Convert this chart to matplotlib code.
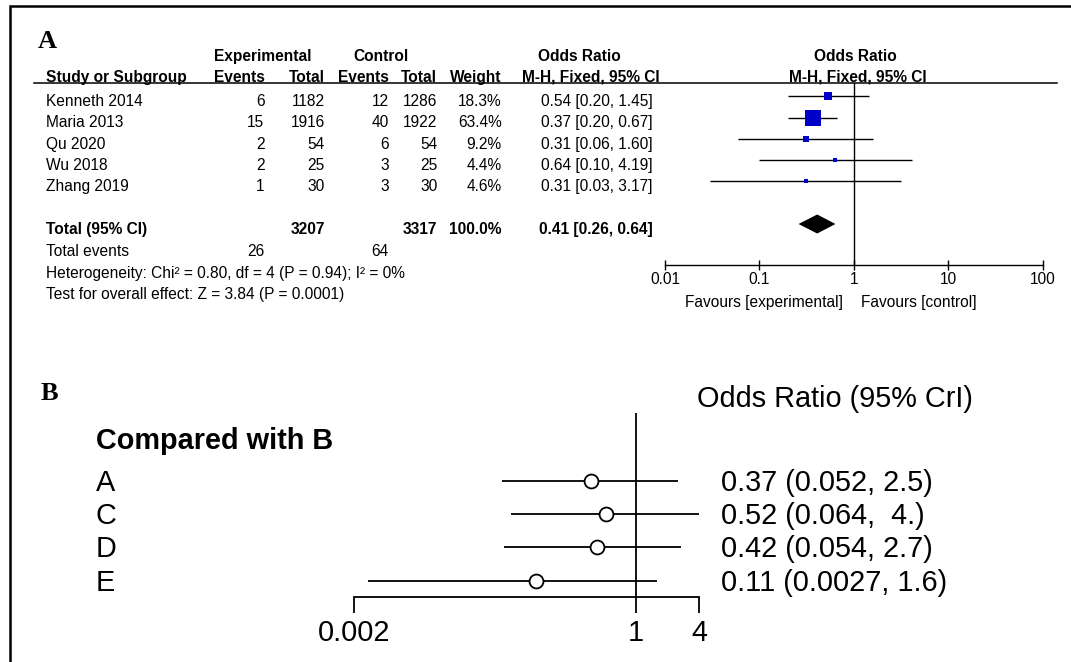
import numpy as np
import matplotlib
matplotlib.use("Agg")
import matplotlib.pyplot as plt

plt.rcParams['font.family'] = ['Liberation Sans', 'DejaVu Sans']

# Panel A: pairwise meta-analysis
studies = ["Kenneth 2014", "Maria 2013", "Qu 2020", "Wu 2018", "Zhang 2019"]
exp_events = [6, 15, 2, 2, 1]
exp_total = [1182, 1916, 54, 25, 30]
ctrl_events = [12, 40, 6, 3, 3]
ctrl_total = [1286, 1922, 54, 25, 30]
weights = [18.3, 63.4, 9.2, 4.4, 4.6]
odds = [0.54, 0.37, 0.31, 0.64, 0.31]
ci_low = [0.20, 0.20, 0.06, 0.10, 0.03]
ci_high = [1.45, 0.67, 1.60, 4.19, 3.17]
pooled = [0.41, 0.26, 0.64]
total_exp, total_ctrl, total_weight = 3207, 3317, 100.0
events_exp, events_ctrl = 26, 64
heterogeneity = "Heterogeneity: Chi² = 0.80, df = 4 (P = 0.94); I² = 0%"
overall = "Test for overall effect: Z = 3.84 (P = 0.0001)"
ticks_a = [0.01, 0.1, 1, 10, 100]
tick_labels_a = ["0.01", "0.1", "1", "10", "100"]

# Panel B: network comparisons
comparisons = ["A", "C", "D", "E"]
or_b = [0.37, 0.52, 0.42, 0.11]
cri_low = [0.052, 0.064, 0.054, 0.0027]
cri_high = [2.5, 4.0, 2.7, 1.6]
or_b_labels = ["0.37 (0.052, 2.5)", "0.52 (0.064,  4.)", "0.42 (0.054, 2.7)", "0.11 (0.0027, 1.6)"]
ticks_b = [0.002, 1, 4]
tick_labels_b = ["0.002", "1", "4"]

W, H = 1071, 662
fig = plt.figure(figsize=(W / 100, H / 100), dpi=100)

# full-figure layer in pixel units for the table text
canvas = fig.add_axes([0, 0, 1, 1])
canvas.set_xlim(0, W)
canvas.set_ylim(H, 0)
canvas.axis('off')


def px_axes(x0, y0, x1, y1):
    return fig.add_axes([x0 / W, 1 - y1 / H, (x1 - x0) / W, (y1 - y0) / H])


# frame (left and top edges only)
canvas.plot([9.7, 9.7, W], [H, 6, 6], color='black', lw=1.8, solid_joinstyle='miter')

serif = ['Liberation Serif', 'DejaVu Serif']
fa = 11.2

# ---------- panel A ----------
canvas.text(38, 48, "A", family=serif, fontweight='bold', fontsize=19)

def t(x, y, s, ha='left', bold=False, size=fa):
    canvas.text(x, y, s, ha=ha, va='baseline', fontsize=size,
                fontweight='bold' if bold else 'normal')

t(262.5, 61, "Experimental", 'center', True)
t(381.5, 61, "Control", 'center', True)
t(579, 61, "Odds Ratio", 'center', True)
t(855, 61, "Odds Ratio", 'center', True)
t(46.5, 82, "Study or Subgroup", 'left', True)
t(264.5, 82, "Events", 'right', True)
t(324.7, 82, "Total", 'right', True)
t(389, 82, "Events", 'right', True)
t(437.3, 82, "Total", 'right', True)
t(501.7, 82, "Weight", 'right', True)
t(591, 82, "M-H, Fixed, 95% CI", 'center', True)
t(858, 82, "M-H, Fixed, 95% CI", 'center', True)
canvas.plot([33.7, 1056.5], [83, 83], color='black', lw=1.1)

for i, name in enumerate(studies):
    y = 106 + 21.3 * i
    t(46.5, y, name)
    t(264.5, y, str(exp_events[i]), 'right')
    t(324.7, y, str(exp_total[i]), 'right')
    t(389, y, str(ctrl_events[i]), 'right')
    t(437.3, y, str(ctrl_total[i]), 'right')
    t(501.7, y, f"{weights[i]:.1f}%", 'right')
    t(652.8, y, f"{odds[i]:.2f} [{ci_low[i]:.2f}, {ci_high[i]:.2f}]", 'right')

y = 106 + 21.3 * 6
t(46.5, y, "Total (95% CI)", 'left', True)
t(324.7, y, str(total_exp), 'right', True)
t(437.3, y, str(total_ctrl), 'right', True)
t(501.7, y, f"{total_weight:.1f}%", 'right', True)
t(652.8, y, f"{pooled[0]:.2f} [{pooled[1]:.2f}, {pooled[2]:.2f}]", 'right', True)
t(46.5, 255.5, "Total events")
t(264.5, 255.5, str(events_exp), 'right')
t(389, 255.5, str(events_ctrl), 'right')
t(46.5, 278, heterogeneity)
t(46.5, 299.5, overall)
t(843.3, 306.5, "Favours [experimental]", 'right')
t(860.8, 306.5, "Favours [control]", 'left')

axa = px_axes(665, 83, 1042.5, 265)
axa.set_xscale('log')
axa.set_xlim(0.01, 100)
axa.set_ylim((265 - 96.2) / 21.3, (83 - 96.2) / 21.3)
rows = np.arange(len(studies))
axa.hlines(rows, ci_low, ci_high, color='black', lw=1.0)
for i in rows:
    axa.plot(odds[i], i, marker='s', color='#0000c8', ms=1.45 * np.sqrt(weights[i]),
             mew=0, zorder=3)
dh = 9.5 / 21.3
axa.fill([pooled[1], pooled[0], pooled[2], pooled[0]], [6, 6 - dh, 6, 6 + dh],
         color='black', lw=0)
axa.axvline(1, color='black', lw=1.0)
for s in ['top', 'left', 'right']:
    axa.spines[s].set_visible(False)
axa.spines['bottom'].set_linewidth(1.0)
axa.set_yticks([])
axa.set_xticks(ticks_a)
axa.set_xticklabels(tick_labels_a, fontsize=fa)
axa.xaxis.set_minor_locator(matplotlib.ticker.NullLocator())
axa.tick_params(axis='x', direction='inout', length=7, width=1.0, pad=1.5)
axa.patch.set_alpha(0)

# ---------- panel B ----------
fb = 20.8
canvas.text(40.6, 400.5, "B", family=serif, fontweight='bold', fontsize=19)
canvas.text(95.7, 449.3, "Compared with B", fontsize=fb, fontweight='bold', va='baseline')
canvas.text(697.4, 407.3, "Odds Ratio (95% CrI)", fontsize=fb, va='baseline')
for i, lab in enumerate(comparisons):
    y = 490.7 + 33.35 * i
    canvas.text(95.7, y, lab, fontsize=fb, va='baseline')
    canvas.text(721, y, or_b_labels[i], fontsize=fb, va='baseline')

axb = px_axes(354, 413.3, 699, 596.7)
axb.set_xscale('log')
axb.set_xlim(0.002, 4)
axb.set_ylim((596.7 - 480.7) / 33.35, (413.3 - 480.7) / 33.35)
rows_b = np.arange(len(comparisons))
axb.hlines(rows_b, cri_low, cri_high, color='black', lw=1.3)
axb.plot(or_b, rows_b, 'o', ms=10, mfc='white', mec='black', mew=1.3, zorder=3)
axb.axvline(1, color='black', lw=1.3)
for s in ['top', 'left', 'right']:
    axb.spines[s].set_visible(False)
axb.spines['bottom'].set_linewidth(1.3)
axb.set_yticks([])
axb.set_xticks(ticks_b)
axb.set_xticklabels(tick_labels_b, fontsize=fb)
axb.xaxis.set_minor_locator(matplotlib.ticker.NullLocator())
axb.tick_params(axis='x', direction='out', length=11.5, width=1.3, pad=4.5)
axb.patch.set_alpha(0)

fig.savefig("out.png", dpi=100)
